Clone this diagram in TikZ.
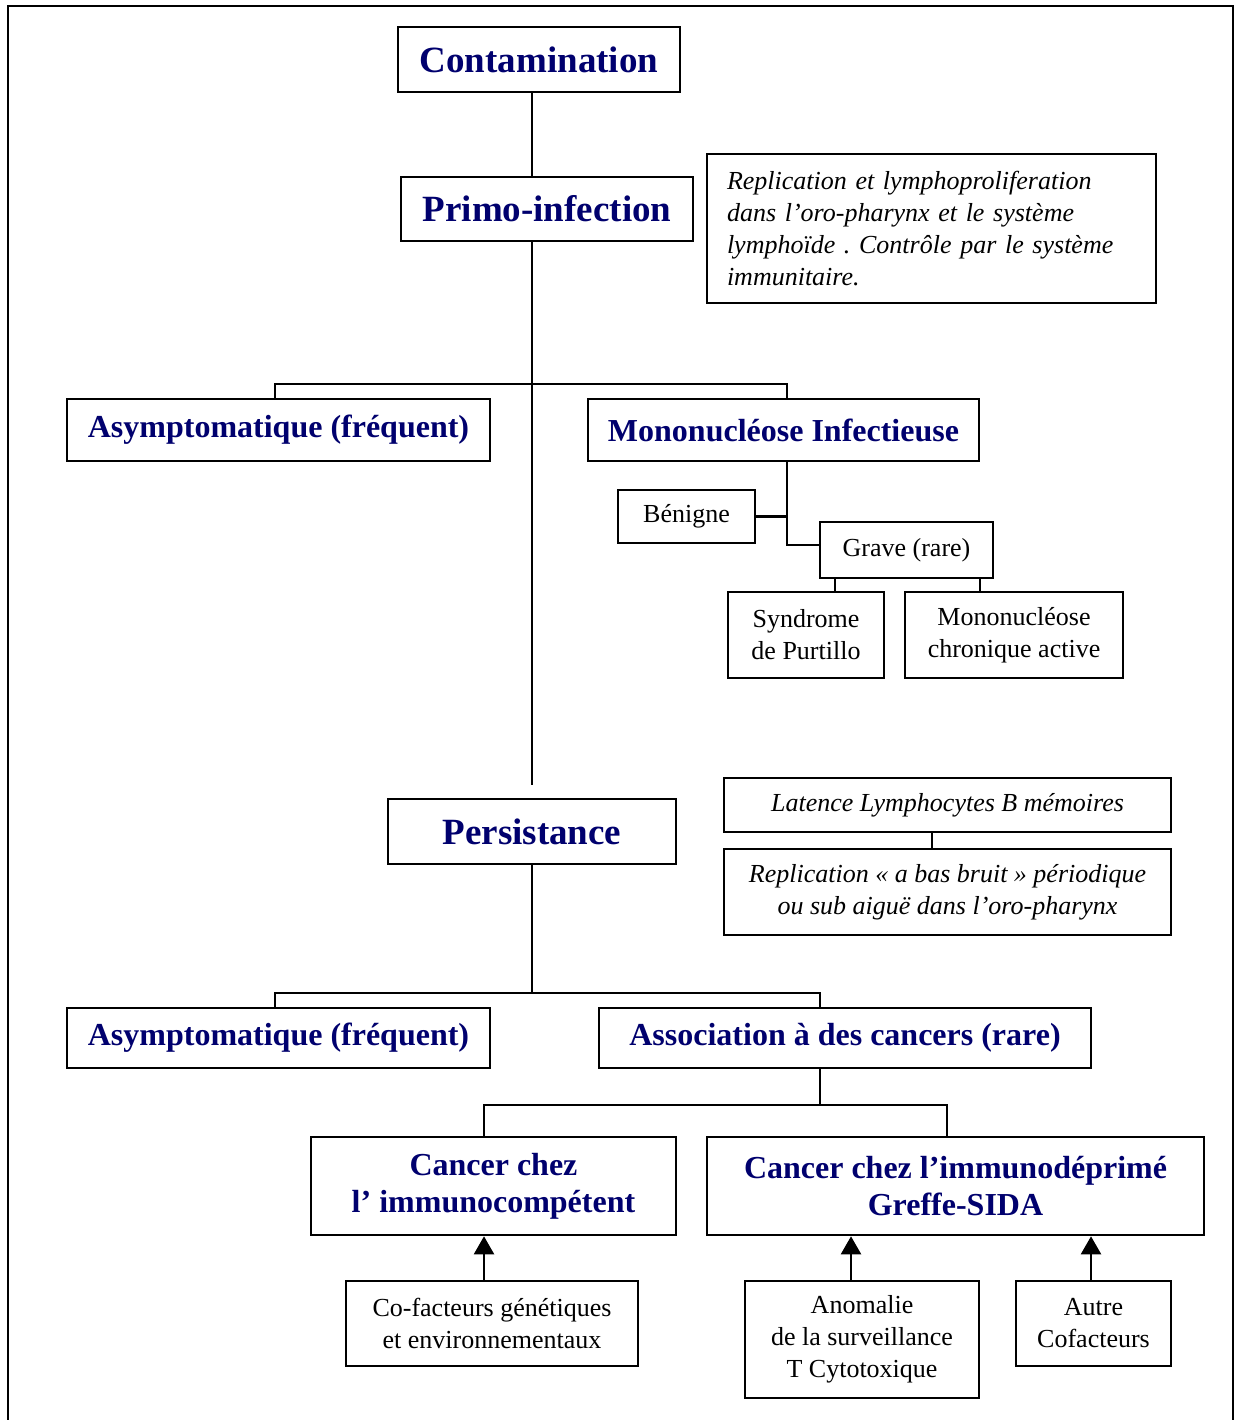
\documentclass[tikz,border=0pt]{standalone}
\usepackage{fontspec}
\setmainfont{Liberation Serif}
\usetikzlibrary{arrows.meta,calc}
\definecolor{navy}{RGB}{0,0,110}
\frenchspacing
\tikzset{
  box/.style={draw=black,line width=2.6pt,fill=white,inner sep=0pt,align=center},
  titlebox/.style={box,font=\fontsize{37}{44}\selectfont\bfseries,text=navy},
  midbox/.style={box,font=\fontsize{32}{37}\selectfont\bfseries,text=navy},
  cancerbox/.style={box,font=\fontsize{32}{37}\selectfont\bfseries,text=navy},
  smallbox/.style={box,font=\fontsize{26}{32}\selectfont},
  italbox/.style={box,font=\fontsize{26}{32}\selectfont\itshape},
  link/.style={draw=black,line width=2.2pt},
  uparrow/.style={link,-{Triangle[width=20pt,length=18pt]}},
  frameline/.style={draw=black,line width=2.6pt}
}
\begin{document}
\begin{tikzpicture}[x=1pt,y=-1pt]
\useasboundingbox (0,0) rectangle (1238,1420);
\fill[white] (0,0) rectangle (1238,1420);
\draw[frameline] (8,1420) -- (8,6) -- (1233,6) -- (1233,1420);

% nodes
\node[titlebox,minimum width=282,minimum height=65] (cont) at (539,59.5) {Contamination};
\node[titlebox,minimum width=292,minimum height=64] (primo) at (547,209) {Primo-infection};
\node[italbox,text width=409,inner xsep=20pt,align=left,minimum height=149] (note) at (931.5,228.5)
  {Replication et lymphoproliferation\\dans l’oro-pharynx et le système\\lymphoïde . Contrôle par le système\\immunitaire.};
\node[midbox,minimum width=423,minimum height=62] (asym1) at (278.5,430) {Asymptomatique (fréquent)};
\node[midbox,minimum width=391,minimum height=62] (mono) at (783.5,430) {Mononucléose Infectieuse};
\node[smallbox,minimum width=137,minimum height=53] (ben) at (686.5,516.5) {Bénigne};
\node[smallbox,minimum width=173,minimum height=56] (grave) at (906.5,550) {Grave (rare)};
\node[smallbox,minimum width=156,minimum height=86] (synd) at (806,635) {Syndrome\\de Purtillo};
\node[smallbox,minimum width=218,minimum height=86] (mcha) at (1014,635) {Mononucléose\\chronique active};
\node[titlebox,minimum width=288,minimum height=65] (pers) at (532,831.5) {Persistance};
\node[italbox,minimum width=447,minimum height=54] (lat) at (947.5,805) {Latence Lymphocytes B mémoires};
\node[italbox,minimum width=447,minimum height=86] (repl) at (947.5,892) {Replication « a bas bruit » périodique\\ou sub aiguë dans l’oro-pharynx};
\node[midbox,minimum width=423,minimum height=60] (asym2) at (278.5,1038) {Asymptomatique (fréquent)};
\node[midbox,minimum width=492,minimum height=60] (assoc) at (845,1038) {Association à des cancers (rare)};
\node[cancerbox,minimum width=365,minimum height=98] (ccomp) at (493.5,1186) {Cancer chez\\l’ immunocompétent};
\node[cancerbox,minimum width=497,minimum height=98] (cdep) at (955.5,1186) {Cancer chez l’immunodéprimé\\Greffe-SIDA};
\node[smallbox,minimum width=292,minimum height=85] (cofac) at (492,1323.5) {Co-facteurs génétiques\\et environnementaux};
\node[smallbox,minimum width=234,minimum height=117] (anom) at (862,1339.5) {Anomalie\\de la surveillance\\T Cytotoxique};
\node[smallbox,minimum width=155,minimum height=85] (autre) at (1093.5,1323.5) {Autre\\Cofacteurs};

% helper coordinates
\coordinate (tx) at (532,0);
\coordinate (pend) at (532,785);
\coordinate (j1) at (532,384);
\coordinate (lx) at (275,0);
\coordinate (mx) at (787,0);
\coordinate (m2) at (787,545);
\coordinate (gx1) at (835,0);
\coordinate (gx2) at (980,0);
\coordinate (latx) at (932,0);
\coordinate (j2) at (532,993);
\coordinate (ax) at (820,0);
\coordinate (j3) at (820,1105);
\coordinate (cx1) at (484,0);
\coordinate (cx2) at (947,0);
\coordinate (ar2) at (851,0);
\coordinate (ar3) at (1091,0);

% connectors
\draw[link] (cont.south -| tx) -- (primo.north -| tx);
\draw[link] (primo.south -| tx) -- (pend);
\draw[link] (asym1.north -| lx) |- (j1) -| (mono.north -| mx);
\draw[link] (mono.south -| mx) -- (m2) -- (m2 -| grave.west);
\draw[link] (ben.east) -- (ben.east -| mx);
\draw[link] (grave.south -| gx1) -- (synd.north -| gx1);
\draw[link] (grave.south -| gx2) -- (mcha.north -| gx2);
\draw[link] (lat.south -| latx) -- (repl.north -| latx);
\draw[link] (pers.south -| tx) -- (j2);
\draw[link] (asym2.north -| lx) |- (j2) -| (assoc.north -| ax);
\draw[link] (assoc.south -| ax) -- (j3);
\draw[link] (ccomp.north -| cx1) |- (j3) -| (cdep.north -| cx2);
\draw[uparrow] (cofac.north -| cx1) -- (ccomp.south -| cx1);
\draw[uparrow] (anom.north -| ar2) -- (cdep.south -| ar2);
\draw[uparrow] (autre.north -| ar3) -- (cdep.south -| ar3);
\end{tikzpicture}
\end{document}
